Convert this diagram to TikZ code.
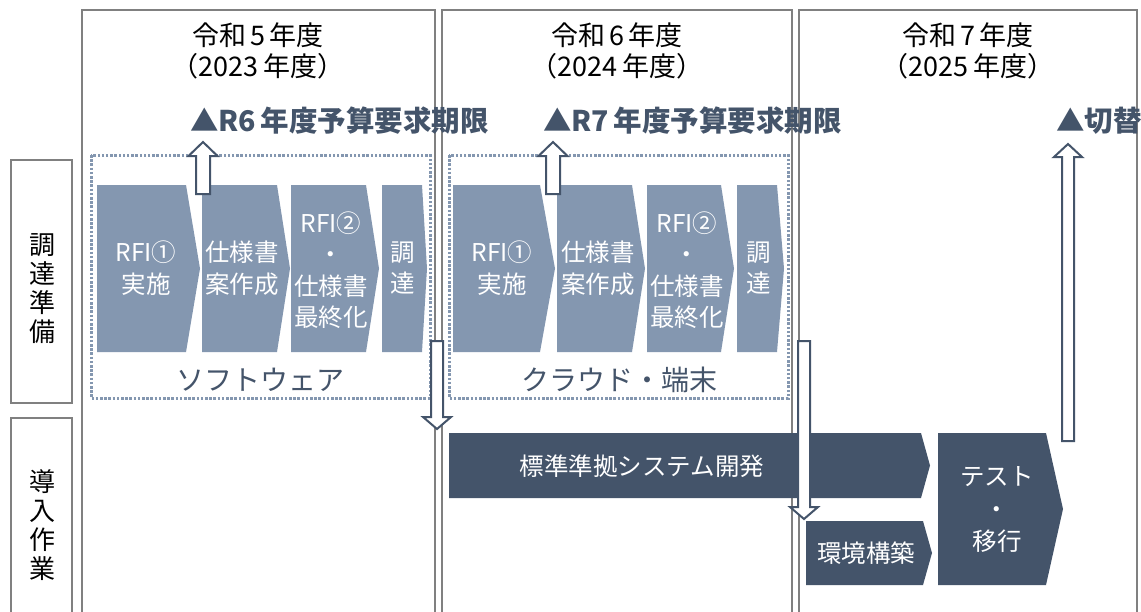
\documentclass[tikz,border=0pt]{standalone}
\usepackage{fontspec}
\setmainfont{Noto Sans CJK JP}
\definecolor{dk}{HTML}{44546A}
\definecolor{lt}{HTML}{8497B0}
\definecolor{gr}{HTML}{808080}
\newcommand\penta[6]{\fill[#6] (#1,#2) -- (#3,#2) -- (#4,{(#2+#5)/2}) -- (#3,#5) -- (#1,#5) -- cycle;}
\newcommand\uparrowblk[6]{% cx, tip, headbase, bottom, halfshaft, halfhead
  \filldraw[blockarr] (#1,#2) -- (#1+#6,#3) -- (#1+#5,#3) -- (#1+#5,#4) -- (#1-#5,#4) -- (#1-#5,#3) -- (#1-#6,#3) -- cycle;}
\newcommand\downarrowblk[6]{% cx, top, headbase, tip, halfshaft, halfhead
  \filldraw[blockarr] (#1-#5,#2) -- (#1+#5,#2) -- (#1+#5,#3) -- (#1+#6,#3) -- (#1,#4) -- (#1-#6,#3) -- (#1-#5,#3) -- cycle;}
\tikzset{
  colbox/.style={draw=gr, line width=2pt},
  dotbox/.style={draw=lt, line width=3pt, dash pattern=on 2.5pt off 1.7pt},
  blockarr/.style={fill=white, draw=dk, line width=2pt, line join=miter},
  head/.style={font=\fontsize{27}{31}\selectfont, align=center, text=black, inner sep=0pt},
  side/.style={font=\fontsize{26}{29}\selectfont, align=center, text=black, inner sep=0pt},
  chtext/.style={font=\fontsize{24.5}{31.5}\selectfont, align=center, text=white, inner sep=0pt},
  grouptext/.style={font=\fontsize{28}{30}\selectfont, text=dk, inner sep=0pt},
  milestone/.style={font=\bfseries\fontsize{28.5}{30}\selectfont, text=dk, inner sep=0pt, anchor=west},
  darktext/.style={font=\fontsize{24.5}{32.5}\selectfont, align=center, text=white, inner sep=0pt},
}
\begin{document}
\begin{tikzpicture}[x=1pt,y=-1pt]
\useasboundingbox (0,0) rectangle (1141,611);
\clip (0,0) rectangle (1141,611);
\fill[white] (0,0) rectangle (1141,611);
% year columns
\draw[colbox] (82,630) -- (82,10) -- (435,10) -- (435,630);
\draw[colbox] (442,630) -- (442,10) -- (792,10) -- (792,630);
\draw[colbox] (799,630) -- (799,10) -- (1137,10) -- (1137,630);
% side boxes
\draw[colbox] (11,160) rectangle (72,403);
\draw[colbox] (11,630) -- (11,418) -- (72,418) -- (72,630);
\node[side] (prep) at (42,289) {調\\達\\準\\備};
\node[side] (impl) at (42,525) {導\\入\\作\\業};
% headers
\node[head] (y5) at (258,51) {令和\,5\,年度\\（2023\,年度）};
\node[head] (y6) at (617,51) {令和\,6\,年度\\（2024\,年度）};
\node[head] (y7) at (968,51) {令和\,7\,年度\\（2025\,年度）};
% dotted groups
\draw[dotbox] (91,155) rectangle (430,398);
\draw[dotbox] (449,155) rectangle (788,398);
% chevrons group 1
\penta{97}{185}{186}{200}{352}{lt}
\penta{202}{185}{277}{290}{352}{lt}
\penta{291}{185}{366}{379}{352}{lt}
\penta{382}{185}{422}{427}{352}{lt}
\node[chtext] (a1) at (146,268) {RFI①\\実施};
\node[chtext] (a2) at (242,268) {仕様書\\案作成};
\node[chtext] (a3) at (331,270) {RFI②\\・\\仕様書\\最終化};
\node[chtext] (a4) at (403,268) {調\\達};
% chevrons group 2
\penta{453}{185}{540}{555}{352}{lt}
\penta{557}{185}{632}{645}{352}{lt}
\penta{647}{185}{721}{734}{352}{lt}
\penta{737}{185}{777}{784}{352}{lt}
\node[chtext] (b1) at (502,268) {RFI①\\実施};
\node[chtext] (b2) at (598,268) {仕様書\\案作成};
\node[chtext] (b3) at (687,270) {RFI②\\・\\仕様書\\最終化};
\node[chtext] (b4) at (759,268) {調\\達};
% group labels
\node[grouptext] (g1) at (260,380) {ソフトウェア};
\node[grouptext] (g2) at (619,380) {クラウド・端末};
% implementation shapes
\penta{449}{433}{921}{930}{498}{dk}
\penta{806}{521}{923}{932}{585}{dk}
\penta{938}{433}{1046}{1063}{585}{dk}
\node[darktext] (dev) at (642,466) {標準準拠システム開発};
\node[darktext] (env) at (866,553) {環境構築};
\node[darktext] (test) at (997,510) {テスト\\・\\移行};
% block arrows
\uparrowblk{203}{142}{156}{194}{7}{14.5}
\uparrowblk{553}{142}{156}{194}{7}{14.5}
\uparrowblk{1068}{144}{157}{441}{6}{14}
\downarrowblk{437}{341}{417}{429}{6}{14}
\downarrowblk{804}{341}{507}{519}{6}{14}
% milestones
\node[milestone] (m1) at (190,121) {▲R6\,年度予算要求期限};
\node[milestone] (m2) at (543,121) {▲R7\,年度予算要求期限};
\node[milestone] (m3) at (1056,121) {▲切替};
\end{tikzpicture}
\end{document}
